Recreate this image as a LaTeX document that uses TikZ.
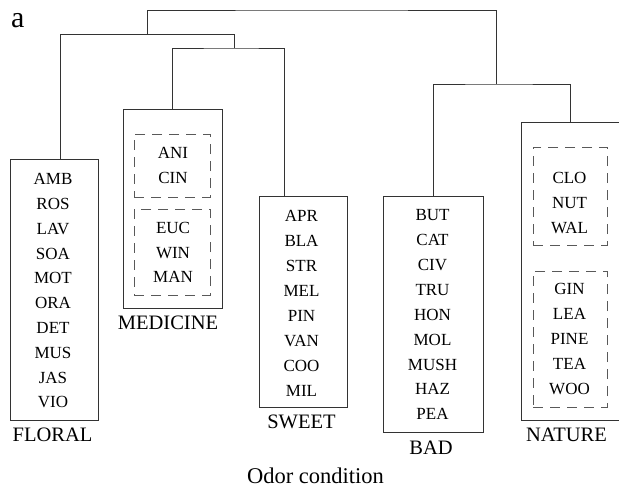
\documentclass[tikz,border=0pt]{standalone}
\usepackage{fontspec}
\setmainfont{Liberation Serif}
\begin{document}
\begin{tikzpicture}[x=1pt,y=-1pt,
  line/.style={draw=black!80, line width=1pt},
  grp/.style={draw=black!80, line width=1pt, inner sep=0pt},
  sub/.style={draw=black!65, line width=1pt, dash pattern=on 10pt off 7pt, inner sep=0pt},
  item/.style={font=\fontsize{17}{20}\selectfont, inner sep=0pt, text height=11.3pt, text depth=0pt},
  lab/.style={font=\fontsize{20.5}{24}\selectfont, inner sep=0pt, text height=13.6pt, text depth=0pt}]
\useasboundingbox (0,0) rectangle (619,491);

% group boxes
\node[grp, minimum width=88pt, minimum height=261pt] (floral) at (54,289.5) {};
\node[grp, minimum width=99pt, minimum height=199pt] (medicine) at (172.5,208.5) {};
\node[sub, minimum width=76pt, minimum height=63pt] (medA) at (172,165.5) {};
\node[sub, minimum width=76pt, minimum height=86pt] (medB) at (172,252) {};
\node[grp, minimum width=88pt, minimum height=211pt] (sweet) at (303,301.5) {};
\node[grp, minimum width=100pt, minimum height=236pt] (bad) at (433,314) {};
\node[grp, minimum width=99pt, minimum height=298pt] (nature) at (570.5,271) {};
\node[sub, minimum width=74pt, minimum height=98pt] (natA) at (570,196) {};
\node[sub, minimum width=74pt, minimum height=136pt] (natB) at (570,339) {};

% items
\foreach \t [count=\i] in {AMB,ROS,LAV,SOA,MOT,ORA,DET,MUS,JAS,VIO}
  \node[item] (floral-\i) at (53,179+24.8*\i-24.8) {\t};
\foreach \t [count=\i] in {ANI,CIN}
  \node[item] (medA-\i) at (173,153+25*\i-25) {\t};
\foreach \t [count=\i] in {EUC,WIN,MAN}
  \node[item] (medB-\i) at (173,228+24.6*\i-24.6) {\t};
\foreach \t [count=\i] in {APR,BLA,STR,MEL,PIN,VAN,COO,MIL}
  \node[item] (sweet-\i) at (301.5,216+25*\i-25) {\t};
\foreach \t [count=\i] in {BUT,CAT,CIV,TRU,HON,MOL,MUSH,HAZ,PEA}
  \node[item] (bad-\i) at (432.5,215+24.9*\i-24.9) {\t};
\foreach \t [count=\i] in {CLO,NUT,WAL}
  \node[item] (natA-\i) at (569.5,178+25*\i-25) {\t};
\foreach \t [count=\i] in {GIN,LEA,PINE,TEA,WOO}
  \node[item] (natB-\i) at (569.5,289+25*\i-25) {\t};

% labels
\node[lab] (lfloral) at (52.5,435) {FLORAL};
\node[lab] (lmedicine) at (168,323) {MEDICINE};
\node[lab] (lsweet) at (301.5,421.5) {SWEET};
\node[lab] (lbad) at (431,447.5) {BAD};
\node[lab] (lnature) at (566.5,435) {NATURE};
\node[font=\fontsize{22.5}{26}\selectfont, inner sep=0pt, text height=14.9pt, text depth=0pt] (axis) at (315.5,476.5) {Odor condition};
\node[font=\fontsize{30}{34}\selectfont, inner sep=0pt, anchor=base west] (panel) at (11,27) {a};

% dendrogram
\coordinate (n1) at (234,34);
\coordinate (n2) at (234,48);
\coordinate (c1) at (147,34);
\coordinate (c2) at (496,84);
\coordinate (root) at (321.5,10);
\draw[line] ([xshift=6pt]floral.north) |- (n1) -- (n2);
\draw[line] ([xshift=-19pt]sweet.north) |- (n2) -| (medicine.north);
\draw[line] (c1) |- (root) -| (c2);
\draw[line] (bad.north) |- (c2) -| (nature.north);
\end{tikzpicture}
\end{document}
